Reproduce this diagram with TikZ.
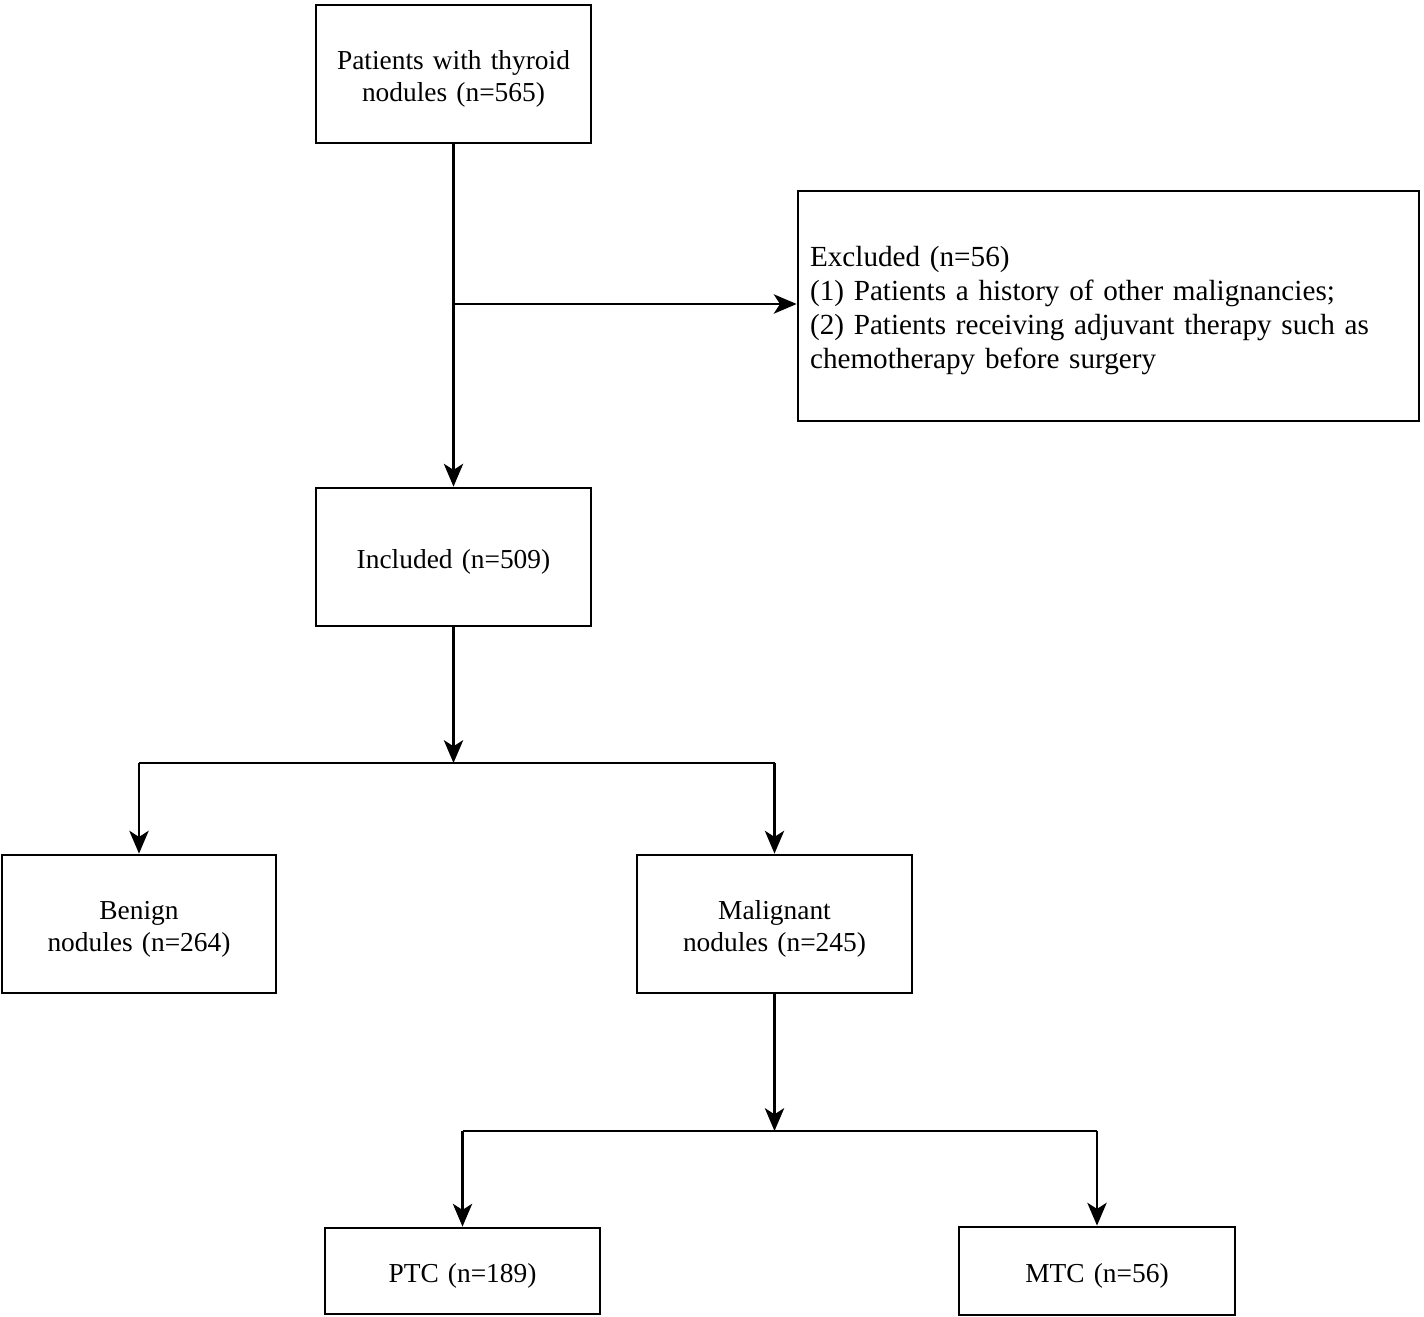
\documentclass[tikz,border=0pt]{standalone}
\usepackage{fontspec}
\setmainfont{Liberation Serif}
\usetikzlibrary{arrows.meta, positioning}

\begin{document}
\begin{tikzpicture}[x=0.02cm, y=-0.02cm,
  box/.style={draw, line width=1.6pt, minimum width=5.5cm, minimum height=2.76cm,
              text width=5.2cm, align=center, font=\fontsize{15.6}{18.2}\selectfont,
              inner sep=2pt, execute at begin node={\rule{0pt}{16.5pt}}},
  arr/.style={-{Stealth[length=13pt,width=11pt,inset=3.5pt]}, line width=1.4pt},
  split/.style={line width=1.4pt}
]
\useasboundingbox (0,0) rectangle (1424,1316);
% boxes
\node[box] (start) at (453.5,74) {Patients with thyroid\\nodules (n=565)};
\node[box, minimum width=12.42cm, minimum height=4.6cm, text width=11.94cm,
      align=left, inner sep=0.24cm, font=\fontsize{16.6}{19.3}\selectfont] (excl) at (1108.5,306)
  {Excluded (n=56)\\(1) Patients a history of other malignancies;\\(2) Patients receiving adjuvant therapy such as\\chemotherapy before surgery};
\node[box] (incl) at (453.5,557) {Included (n=509)};
\node[box, minimum width=5.48cm] (benign) at (139,924) {Benign\\nodules (n=264)};
\node[box] (malig) at (774.5,924) {Malignant\\nodules (n=245)};
\node[box, minimum height=1.72cm] (ptc) at (462.5,1271) {PTC (n=189)};
\node[box, minimum width=5.52cm, minimum height=1.76cm] (mtc) at (1097,1271) {MTC (n=56)};
% connectors
\coordinate (exc) at (453.5,304);
\coordinate (sp1) at (453.5,763);
\coordinate (sp2) at (774.5,1131);
\draw[arr] (start) -- (incl);
\draw[arr] (exc) -- (exc -| excl.west);
\draw[arr] (incl) -- (sp1);
\draw[split] (sp1 -| benign) -- (sp1 -| malig);
\draw[arr] (sp1 -| benign) -- (benign);
\draw[arr] (sp1 -| malig) -- (malig);
\draw[arr] (malig) -- (sp2);
\draw[split] (sp2 -| ptc) -- (sp2 -| mtc);
\draw[arr] (sp2 -| ptc) -- (ptc);
\draw[arr] (sp2 -| mtc) -- (mtc);
\end{tikzpicture}
\end{document}
